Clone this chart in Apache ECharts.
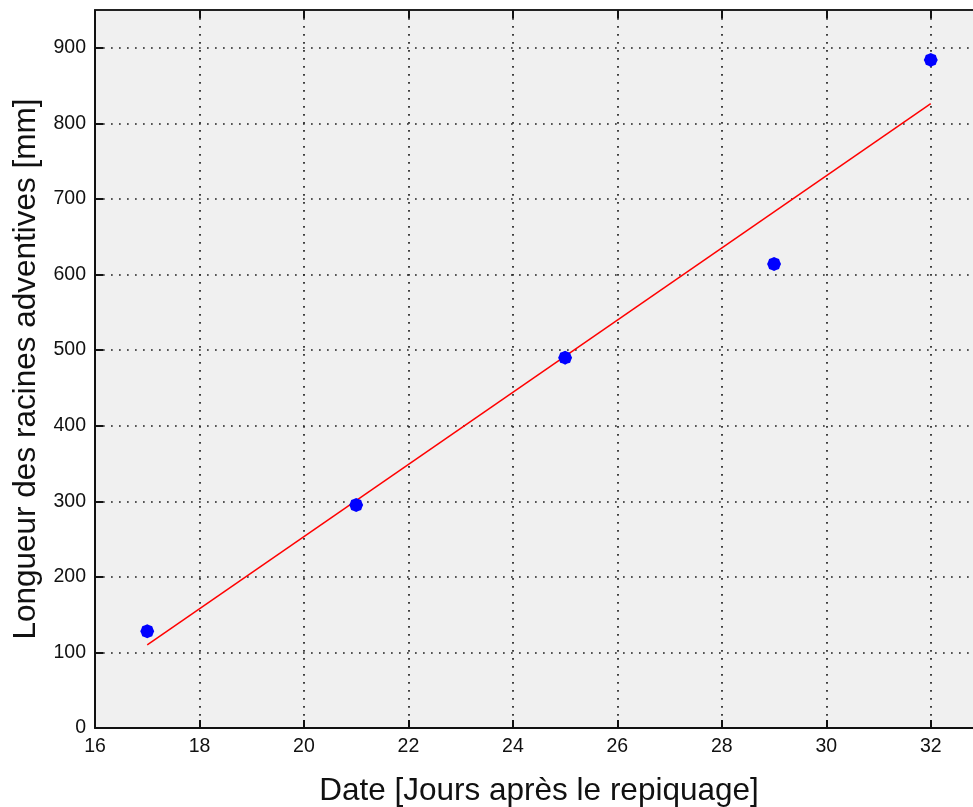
<!DOCTYPE html>
<html>
<head>
<meta charset="utf-8">
<script src="https://cdn.jsdelivr.net/npm/echarts@6/dist/echarts.min.js"></script>
<style>html,body{margin:0;padding:0;background:#fff;}#c{width:973px;height:807px;}</style>
</head>
<body>
<div id="c"></div>
<script>
var days = [17, 21, 25, 29, 32];
var lengths = [128, 295, 490, 614, 884];
var fitDays = [17, 32];
var fitLengths = [110, 826];
var xTicks = [16, 18, 20, 22, 24, 26, 28, 30, 32];
var xMax = 33;
var yTicks = [0, 100, 200, 300, 400, 500, 600, 700, 800, 900];
var yMax = 950;

var chart = echarts.init(document.getElementById('c'), null, {renderer: 'canvas'});
var font = 'Liberation Sans, Arial, sans-serif';
var star = 'path://M0,-10 L3.2,-8.5 L7.1,-7.1 L8.5,-3.2 L10,0 L8.5,3.2 L7.1,7.1 L3.2,8.5 L0,10 L-3.2,8.5 L-7.1,7.1 L-8.5,3.2 L-10,0 L-8.5,-3.2 L-7.1,-7.1 L-3.2,-8.5 Z';

chart.setOption({
  animation: false,
  backgroundColor: '#ffffff',
  grid: {left: 95, top: 10, width: 888, height: 718, show: true, backgroundColor: '#f0f0f0', borderWidth: 0,
         containLabel: false, outerBoundsMode: 'none'},
  xAxis: [{
    type: 'value', min: xTicks[0], max: xMax, interval: 2,
    position: 'bottom',
    name: 'Date [Jours après le repiquage]', nameLocation: 'middle', nameGap: 47,
    nameTextStyle: {fontFamily: font, fontSize: 31.5, color: '#111'},
    axisLine: {show: true, lineStyle: {color: '#111', width: 2}},
    axisTick: {show: true, inside: true, length: 8, lineStyle: {color: '#111', width: 2}},
    axisLabel: {fontFamily: font, fontSize: 19.5, color: '#111', margin: 9, showMaxLabel: false,
      formatter: function (v) { return xTicks.indexOf(v) >= 0 ? String(v) : ''; }},
    splitLine: {show: true, lineStyle: {color: '#222', width: 1.7, type: [1.7, 6.3]}}
  }, {
    type: 'value', min: xTicks[0], max: xMax, interval: 2,
    position: 'top',
    axisLine: {show: true, lineStyle: {color: '#222', width: 2}},
    axisTick: {show: true, inside: true, length: 8, lineStyle: {color: '#111', width: 2}},
    axisLabel: {show: false},
    splitLine: {show: false}
  }],
  yAxis: [{
    type: 'value', min: 0, max: yMax, interval: 100,
    name: 'Longueur des racines adventives [mm]', nameLocation: 'middle', nameGap: 53,
    nameTextStyle: {fontFamily: font, fontSize: 31.5, color: '#111'},
    axisLine: {show: true, lineStyle: {color: '#111', width: 2}},
    axisTick: {show: true, inside: true, length: 8, lineStyle: {color: '#111', width: 2}},
    axisLabel: {fontFamily: font, fontSize: 19.5, color: '#111', margin: 9, showMaxLabel: false,
      formatter: function (v) { return yTicks.indexOf(v) >= 0 ? String(v) : ''; }},
    splitLine: {show: true, lineStyle: {color: '#222', width: 1.7, type: [1.7, 6.3]}}
  }],
  series: [{
    type: 'line',
    data: fitDays.map(function (d, i) { return [d, fitLengths[i]]; }),
    showSymbol: false, symbol: 'none',
    lineStyle: {color: '#ff0000', width: 1.5},
    z: 3
  }, {
    type: 'scatter',
    data: days.map(function (d, i) { return [d, lengths[i]]; }),
    symbol: star, symbolSize: 14,
    itemStyle: {color: '#0000ff', opacity: 1},
    z: 4
  }]
});
</script>
</body>
</html>
